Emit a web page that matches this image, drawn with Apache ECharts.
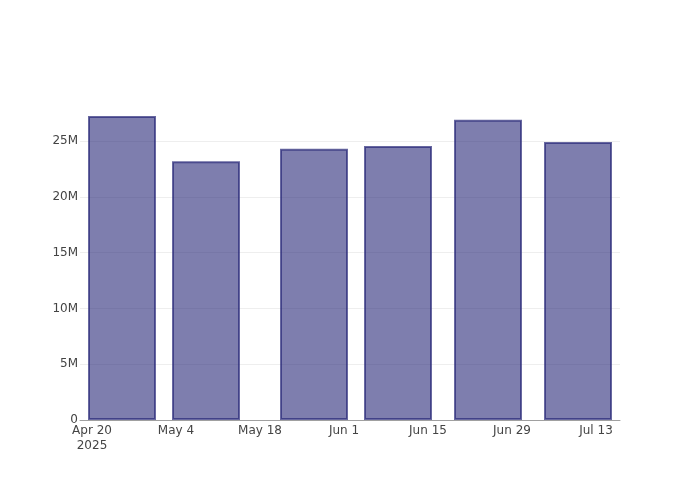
<!DOCTYPE html>
<html>
<head>
<meta charset="utf-8">
<script src="https://cdn.jsdelivr.net/npm/echarts@6/dist/echarts.min.js"></script>
<style>html,body{margin:0;padding:0;background:#fff}#c{width:700px;height:500px}</style>
</head>
<body>
<div id="c"></div>
<script>
// Data
const barDates = ['2025-04-25', '2025-05-09', '2025-05-27', '2025-06-10', '2025-06-25', '2025-07-10'];
const barValues = [27250000, 23200000, 24300000, 24560000, 26900000, 24920000];
const xTickDates = ['2025-04-20', '2025-05-04', '2025-05-18', '2025-06-01', '2025-06-15', '2025-06-29', '2025-07-13'];
const xTickLabels = ['Apr 20\n2025', 'May 4', 'May 18', 'Jun 1', 'Jun 15', 'Jun 29', 'Jul 13'];
const yTickValues = [0, 5000000, 10000000, 15000000, 20000000, 25000000];
const yTickLabels = ['0', '5M', '10M', '15M', '20M', '25M'];
const xRange = ['2025-04-18', '2025-07-17'];
const yMax = 28680000;

function ts(s) { const p = s.split('-').map(Number); return Date.UTC(p[0], p[1] - 1, p[2]); }

const xTickTs = xTickDates.map(ts);
const chart = echarts.init(document.getElementById('c'), null, { renderer: 'canvas' });
const font = 'DejaVu Sans';
chart.setOption({
  animation: false,
  backgroundColor: '#ffffff',
  grid: { left: 80, right: 80, top: 100, bottom: 80, containLabel: false },
  xAxis: {
    type: 'value',
    min: ts(xRange[0]),
    max: ts(xRange[1]),
    axisLine: { show: true, onZero: false, lineStyle: { color: '#a0a0a0', width: 1 } },
    axisTick: { show: false },
    splitLine: { show: false },
    axisLabel: {
      customValues: xTickTs,
      formatter: function (v) {
        const i = xTickTs.indexOf(v);
        return i >= 0 ? xTickLabels[i] : '';
      },
      color: '#444', fontFamily: font, fontSize: 12, lineHeight: 15, margin: 3,
      showMinLabel: true, showMaxLabel: true, hideOverlap: false
    }
  },
  yAxis: {
    type: 'value',
    min: 0,
    max: yMax,
    interval: 5000000,
    axisLine: { show: false },
    axisTick: { show: false },
    splitLine: { show: true, showMaxLine: false, lineStyle: { color: '#eeeeee', width: 1 } },
    axisLabel: {
      customValues: yTickValues,
      formatter: function (v) {
        const i = yTickValues.indexOf(v);
        return i >= 0 ? yTickLabels[i] : '';
      },
      color: '#444', fontFamily: font, fontSize: 12, margin: 2
    }
  },
  series: [{
    type: 'bar',
    data: barDates.map((d, i) => [ts(d), barValues[i]]),
    barWidth: 68,
    itemStyle: {
      color: 'rgba(40,40,120,0.6)',
      borderColor: 'rgba(40,40,120,0.7)',
      borderWidth: 2
    }
  }]
});
</script>
</body>
</html>
